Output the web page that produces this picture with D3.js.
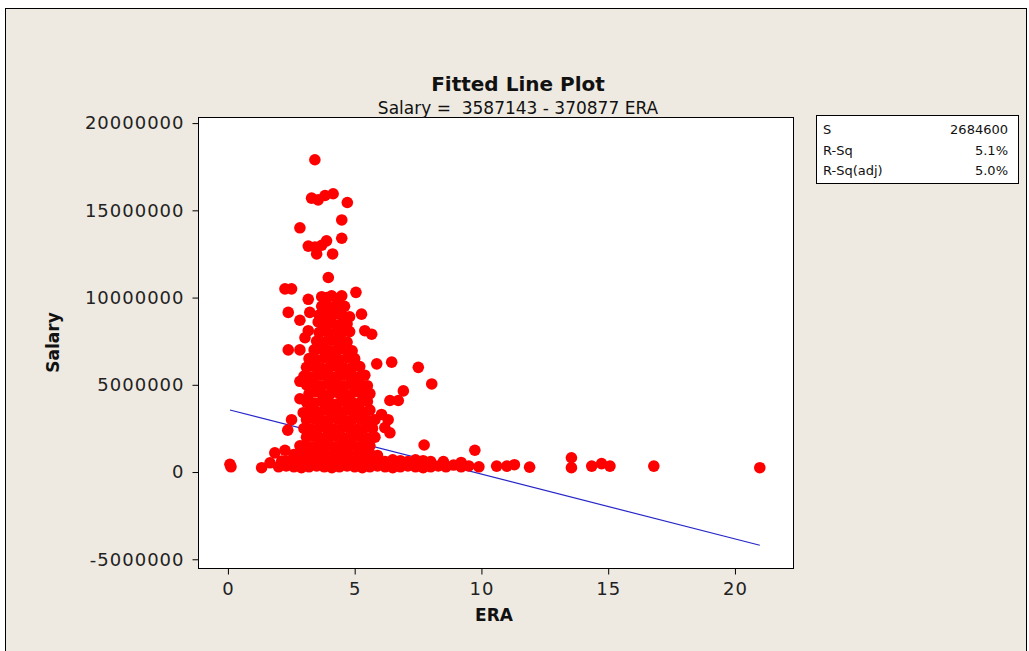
<!DOCTYPE html>
<html lang="en">
<head>
<meta charset="utf-8" />
<title>Fitted Line Plot</title>
<style>
  body { margin: 0; padding: 0; background: #fff; }
  svg { display: block; font-family: "DejaVu Sans", Verdana, sans-serif; }
  .frame { fill: #eeeae1; stroke: #000; }
  .box { fill: #fff; stroke: #000; }
  .axis text { font-size: 18px; fill: #222; letter-spacing: 1px; font-family: "DejaVu Sans", Verdana, sans-serif; }
  .axis path, .axis line { stroke: #000; }
  .title { font-size: 20px; font-weight: bold; fill: #111; }
  .subtitle { font-size: 17px; fill: #111; }
  .alabel { font-size: 17px; font-weight: bold; fill: #111; }
  .stat { font-size: 13px; fill: #111; }
  .fit { stroke: #2626c8; stroke-width: 1.2; fill: none; }
  .pt { fill: #f00; }
</style>
</head>
<body>
<div id="chart"></div>
<script src="https://d3js.org/d3.v7.min.js"></script>
<script>
// regression from the chart subtitle
const intercept = 3587143;
const slope = -370877;

const xTicks = [0, 5, 10, 15, 20];
const yTicks = [-5000000, 0, 5000000, 10000000, 15000000, 20000000];

const statLabels = ['S', 'R-Sq', 'R-Sq(adj)'];
const statValues = ['2684600', '5.1%', '5.0%'];

// points: [ERA, salary in $ millions]
const upperPts = [
  [3.43,17.9],[3.30,15.7],[3.56,15.6],[3.83,15.85],[4.15,15.95],[4.71,15.45],
  [4.49,14.45],[2.84,14.0],[4.49,13.4],[3.17,12.95],[3.43,12.9],[3.70,13.0],
  [3.89,13.25],[3.50,12.5],[4.13,12.5],[3.96,11.15],[2.25,10.5],[2.51,10.5],
  [3.17,9.9],[3.70,10.05],[4.09,10.1],[4.49,10.1],[5.05,10.3],[2.38,9.15],
  [2.84,8.7],[3.23,9.15],[3.56,8.6],[5.27,9.05],[3.17,8.1],[3.04,7.7],
  [5.40,8.1],[5.67,7.9],[2.38,7.0],[2.84,7.0],[5.87,6.2],[6.46,6.3],
  [7.51,6.0],[8.04,5.05],[6.92,4.65],[6.39,4.1],[6.72,4.1],[6.06,3.3],
  [6.32,3.0],[6.19,2.55],[6.39,2.25],[7.74,1.55],[9.74,1.25],[2.84,5.2],
  [2.84,4.2],[2.97,3.4],[2.51,3.0],[2.36,2.4],[1.85,1.1],[2.25,1.25],
  [1.66,0.53],[2.12,0.63],[2.84,1.5],[2.71,0.92],[0.08,0.44],[0.12,0.3],
  [1.33,0.25]
];

const columnPts = [
  [3.9,10.0],[4.3,9.95],
  [3.7,9.5],[4.0,9.45],[4.3,9.55],[4.6,9.5],
  [3.6,9.0],[3.9,8.95],[4.2,9.05],[4.5,9.0],[4.8,8.9],
  [3.8,8.5],[4.1,8.55],[4.4,8.45],[4.7,8.5],
  [3.6,8.0],[3.9,8.05],[4.2,7.95],[4.5,8.0],[4.8,8.05],
  [3.5,7.5],[3.8,7.45],[4.1,7.55],[4.4,7.5],[4.7,7.45],
  [3.4,7.0],[3.7,7.05],[4.0,6.95],[4.3,7.0],[4.6,7.05],[4.9,6.95],
  [3.2,6.5],[3.5,6.45],[3.8,6.55],[4.1,6.5],[4.4,6.45],[4.7,6.55],[5.0,6.5],
  [3.1,6.0],[3.4,6.05],[3.7,5.95],[4.0,6.0],[4.3,6.05],[4.6,5.95],[4.9,6.0],[5.2,6.05],
  [3.0,5.5],[3.3,5.45],[3.6,5.55],[3.9,5.5],[4.2,5.45],[4.5,5.55],[4.8,5.5],[5.1,5.45],[5.4,5.55],
  [3.1,5.0],[3.4,5.05],[3.7,4.95],[4.0,5.0],[4.3,5.05],[4.6,4.95],[4.9,5.0],[5.2,5.05],[5.5,4.95]
];

const lowerPts = [
  [3.2,4.5],[3.5,4.6],[3.8,4.4],[4.1,4.55],[4.4,4.5],[4.7,4.4],[5.0,4.6],[5.3,4.45],[5.6,4.5],
  [3.1,4.0],[3.4,3.95],[3.7,4.05],[4.0,4.0],[4.3,3.9],[4.6,4.05],[4.9,4.0],[5.2,3.95],[5.5,4.05],
  [3.2,3.5],[3.5,3.45],[3.8,3.55],[4.1,3.5],[4.4,3.45],[4.7,3.55],[5.0,3.5],[5.3,3.45],[5.6,3.55],
  [3.1,3.0],[3.4,3.05],[3.7,2.95],[4.0,3.0],[4.3,3.05],[4.6,2.95],[4.9,3.0],[5.2,3.05],[5.5,2.95],[5.8,3.0],
  [3.0,2.5],[3.3,2.45],[3.6,2.55],[3.9,2.5],[4.2,2.45],[4.5,2.55],[4.8,2.5],[5.1,2.45],[5.4,2.55],[5.7,2.5],
  [3.1,2.0],[3.4,2.05],[3.7,1.95],[4.0,2.0],[4.3,2.05],[4.6,1.95],[4.9,2.0],[5.2,2.05],[5.5,1.95],[5.8,2.0],
  [3.0,1.5],[3.3,1.45],[3.6,1.55],[3.9,1.5],[4.2,1.45],[4.5,1.55],[4.8,1.5],[5.1,1.45],[5.4,1.55],[5.6,1.5],
  [2.6,1.0],[2.9,1.05],[3.2,0.95],[3.5,1.0],[3.8,1.05],[4.1,0.95],[4.4,1.0],[4.7,1.05],[5.0,0.95],
  [5.3,1.0],[5.6,1.05],[5.9,0.95],
  [2.3,0.65],[2.6,0.6],[2.9,0.7],[3.2,0.65],[3.5,0.6],[3.8,0.7],[4.1,0.65],[4.4,0.6],[4.7,0.7],
  [5.0,0.65],[5.3,0.6],[5.6,0.7],[5.9,0.65],[6.2,0.6],[6.5,0.7],[6.8,0.65],[7.1,0.6],[7.4,0.7],
  [7.7,0.65],[8.0,0.6],
  [2.0,0.3],[2.3,0.35],[2.6,0.3],[2.9,0.25],[3.2,0.3],[3.5,0.35],[3.8,0.3],[4.1,0.25],[4.4,0.3],
  [4.7,0.35],[5.0,0.3],[5.3,0.25],[5.6,0.3],[5.9,0.35],[6.2,0.3],[6.5,0.25],[6.8,0.3],[7.1,0.35],
  [7.4,0.3],[7.7,0.25],[8.0,0.3],[8.3,0.35],[8.6,0.3],[8.9,0.4],[9.2,0.3],[9.5,0.35],[9.9,0.3]
];

const tailPts = [
  [8.5,0.6],[9.2,0.55],[10.6,0.34],[11.0,0.34],[11.3,0.42],[11.9,0.28],
  [13.55,0.82],[13.55,0.25],[14.35,0.34],[14.74,0.48],[15.07,0.34],
  [16.8,0.34],[20.98,0.25]
];

const points = [...upperPts, ...columnPts, ...lowerPts, ...tailPts]
  .map(d => ({ era: d[0], salary: d[1] * 1e6 }));

const W = 1029, H = 651;
const box = { left: 198, top: 117, right: 793, bottom: 568 };

const svg = d3.select('#chart').append('svg')
    .attr('width', W)
    .attr('height', H);

svg.append('rect').attr('class', 'frame')
    .attr('x', 5.5).attr('y', 8.5).attr('width', 1021).attr('height', 660);

const x = d3.scaleLinear().domain([-1.18, 22.29]).range([box.left, box.right]);
const y = d3.scaleLinear().domain([-5500000, 20350000]).range([box.bottom, box.top]);

svg.append('rect').attr('class', 'box')
    .attr('x', box.left + 0.5).attr('y', box.top + 0.5)
    .attr('width', box.right - box.left).attr('height', box.bottom - box.top);

svg.append('g').attr('class', 'axis')
    .attr('transform', `translate(${box.left + 0.5},0)`)
    .call(d3.axisLeft(y).tickValues(yTicks).tickSize(6).tickSizeOuter(0).tickPadding(8)
      .tickFormat(d => String(d)))
    .call(g => g.select('.domain').remove());

svg.append('g').attr('class', 'axis')
    .attr('transform', `translate(0,${box.bottom + 0.5})`)
    .call(d3.axisBottom(x).tickValues(xTicks).tickSize(6).tickSizeOuter(0).tickPadding(8))
    .call(g => g.select('.domain').remove());

// fitted line over the ERA range, drawn beneath the points
const eraExtent = d3.extent(points, d => d.era);
svg.append('line').attr('class', 'fit')
    .attr('x1', x(eraExtent[0])).attr('y1', y(intercept + slope * eraExtent[0]))
    .attr('x2', x(eraExtent[1])).attr('y2', y(intercept + slope * eraExtent[1]));

svg.append('g')
  .selectAll('circle')
  .data(points)
  .enter().append('circle')
    .attr('class', 'pt')
    .attr('cx', d => x(d.era))
    .attr('cy', d => y(d.salary))
    .attr('r', 5.8);

svg.append('text').attr('class', 'title')
    .attr('x', 518).attr('y', 91).attr('text-anchor', 'middle')
    .text('Fitted Line Plot');
svg.append('text').attr('class', 'subtitle')
    .attr('x', 518).attr('y', 114).attr('text-anchor', 'middle')
    .style('white-space', 'pre')
    .text('Salary =  3587143 - 370877 ERA');

svg.append('text').attr('class', 'alabel')
    .attr('x', 494).attr('y', 621).attr('text-anchor', 'middle')
    .text('ERA');
svg.append('text').attr('class', 'alabel')
    .attr('transform', `translate(59,${(box.top + box.bottom) / 2}) rotate(-90)`)
    .attr('text-anchor', 'middle')
    .text('Salary');

// stats box
const leg = { x: 816, y: 115, w: 202, h: 68 };
svg.append('rect').attr('class', 'box')
    .attr('x', leg.x + 0.5).attr('y', leg.y + 0.5).attr('width', leg.w).attr('height', leg.h);
statLabels.forEach((s, i) => {
  const ty = leg.y + 19 + i * 20.5;
  svg.append('text').attr('class', 'stat').attr('x', leg.x + 7).attr('y', ty).text(s);
  svg.append('text').attr('class', 'stat').attr('x', leg.x + leg.w - 10).attr('y', ty)
      .attr('text-anchor', 'end').text(statValues[i]);
});
</script>
</body>
</html>
